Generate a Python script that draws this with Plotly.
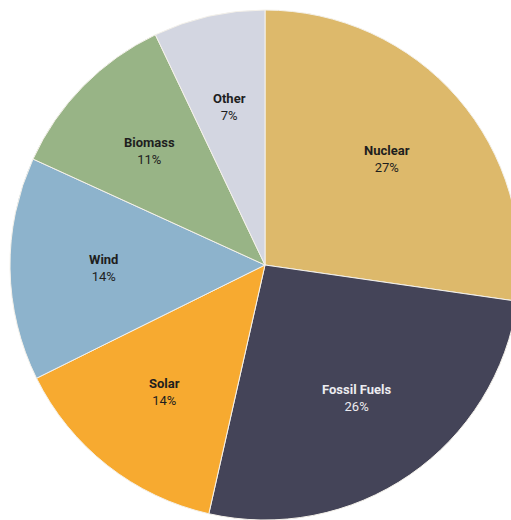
import math
import plotly.graph_objects as go

# Energy mix shares (percent)
sources = ["Nuclear", "Fossil Fuels", "Solar", "Wind", "Biomass", "Other"]
shares = [27, 26, 14, 14, 11, 7]
slice_colors = ["#DDB96B", "#444458", "#F7AA30", "#8DB3CC", "#98B486", "#D3D6E1"]
label_colors = ["#1E1E1E", "#ECECF0", "#1E1E1E", "#1E1E1E", "#1E1E1E", "#1E1E1E"]

LABEL_RADIUS = 0.635  # fraction of the pie radius where slice labels sit

fig = go.Figure(
    go.Pie(
        labels=sources,
        values=shares,
        sort=False,
        direction="clockwise",
        rotation=0,
        marker=dict(colors=slice_colors, line=dict(color="#F4F1EA", width=1)),
        textinfo="none",
        hoverinfo="label+percent",
        showlegend=False,
        domain=dict(x=[0, 1], y=[0, 1]),
    )
)

# Slice labels placed along each slice's mid-angle (clockwise from 12 o'clock)
total = sum(shares)
start = 0.0
for name, val, col in zip(sources, shares, label_colors):
    mid = (start + val / 2) / total * 2 * math.pi
    start += val
    x = 0.5 + 0.5 * LABEL_RADIUS * math.sin(mid)
    y = 0.5 + 0.5 * LABEL_RADIUS * math.cos(mid)
    fig.add_annotation(
        x=x, y=y, xref="paper", yref="paper",
        text=f"<b>{name}</b><br>{val}%",
        showarrow=False,
        xanchor="center", yanchor="middle",
        align="center",
        font=dict(family="Roboto", size=13, color=col),
    )

fig.update_layout(
    width=530,
    height=530,
    autosize=False,
    margin=dict(l=10, r=10, t=10, b=10),
    paper_bgcolor="white",
    plot_bgcolor="white",
)

fig.write_html(
    "out.html",
    post_script="document.body.style.margin='0';document.body.style.overflow='hidden';",
)
